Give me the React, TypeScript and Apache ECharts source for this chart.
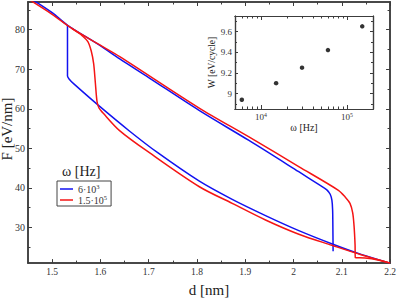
import React, { useEffect, useRef } from 'react';
import * as echarts from 'echarts';

const FONT = 'Liberation Serif';
const AX = '#3c3c3c';
const BLUE = '#1212f0';
const RED = '#f51515';

// ---- main plot data: F [eV/nm] vs d [nm] ----
const blueUpper: [number, number][] = [
  [1.45, 88.3], [1.50, 84.3], [1.532, 81.1], [1.598, 76.1], [1.64, 72.6], [1.70, 67.9],
  [1.8044, 59.6], [1.9077, 52.0], [2.0108, 44.1], [2.052, 40.9], [2.069, 39.5], [2.076, 38.4],
  [2.0795, 36.9], [2.081, 34.5], [2.0815, 30.5], [2.082, 24.0],
];
const blueLower: [number, number][] = [
  [2.2, 21.0], [2.14, 23.2], [2.083, 25.7], [2.011, 29.2], [1.942, 33.0], [1.873, 37.1],
  [1.805, 41.7], [1.7187, 48.9], [1.66, 54.4], [1.5985, 60.6], [1.545, 66.3], [1.536, 67.4],
  [1.5318, 68.3], [1.5318, 81.1],
];
const redUpper: [number, number][] = [
  [1.45, 87.8], [1.50, 83.9], [1.54, 80.4], [1.598, 76.2], [1.64, 73.2], [1.8046, 60.2],
  [1.9077, 52.9], [2.0108, 45.4], [2.093, 39.4], [2.107, 37.7], [2.117, 36.1], [2.1226, 33.7],
  [2.1254, 30.4], [2.1275, 25.6], [2.128, 22.4], [2.148, 22.3], [2.175, 21.8], [2.2, 21.0],
];
const redLower: [number, number][] = [
  [2.2, 21.0], [2.14, 23.1], [2.0795, 25.5], [2.011, 28.3], [1.942, 31.9], [1.873, 36.1],
  [1.805, 40.3], [1.7015, 48.9], [1.6397, 54.5], [1.605, 59.0], [1.597, 60.2], [1.593, 61.8],
  [1.5895, 66.6], [1.586, 71.4], [1.581, 74.6], [1.574, 77.0], [1.562, 78.5], [1.553, 79.3],
  [1.54, 80.4],
];

// ---- inset data: W [eV/cycle] vs omega [Hz] ----
const omegaHz = [6000, 15000, 30000, 60000, 150000];
const workEV = [8.94, 9.10, 9.25, 9.42, 9.65];

// ---- ticks ----
const mainXLabels = [1.5, 1.6, 1.7, 1.8, 1.9, 2.0, 2.1, 2.2];
const mainXMinor = [1.55, 1.65, 1.75, 1.85, 1.95, 2.05, 2.15];
const mainYLabels = [30, 40, 50, 60, 70, 80];
const mainYMinor = [25, 35, 45, 55, 65, 75, 85];
const insetXDecades = [4, 5];
const insetXMinorHz = [6000, 7000, 8000, 9000, 20000, 30000, 40000, 50000, 60000, 70000, 80000, 90000];
const insetYLabels = [9.0, 9.2, 9.4, 9.6];
const insetYMinor = [8.9, 9.1, 9.3, 9.5, 9.7];

const richFor = (fs: number) => ({
  t: { fontSize: fs, fontFamily: FONT, color: '#333' },
  sup: { fontSize: fs * 0.65, fontFamily: FONT, color: '#333', padding: [0, 0, fs * 0.5, 0] },
});

function axis(p: any) {
  return {
    type: 'value',
    gridIndex: p.grid,
    position: p.pos,
    min: p.min,
    max: p.max,
    splitLine: { show: false },
    axisLine: { show: true, onZero: false, lineStyle: { color: AX, width: p.lw } },
    axisTick: {
      show: true, inside: true, length: p.len, customValues: p.ticks,
      lineStyle: { color: AX, width: p.tw ?? 1 },
    },
    axisLabel: p.labels
      ? {
          show: true, customValues: p.labels, formatter: p.fmt, margin: p.margin,
          fontSize: p.fs, fontFamily: FONT, color: '#333', rich: richFor(p.fs),
        }
      : { show: false },
    name: p.name,
    nameLocation: 'middle',
    nameGap: p.nameGap,
    nameTextStyle: { fontSize: p.nameSize, fontFamily: FONT, color: '#222' },
  };
}

const oneDec = (v: number) => `{t|${Math.round(v * 10) / 10}}`;

export default function App() {
  const ref = useRef<HTMLDivElement>(null);
  useEffect(() => {
    if (!ref.current) return;
    const chart = echarts.init(ref.current, undefined, { renderer: 'svg' });
    const mx = { grid: 0, min: 1.45, max: 2.2, lw: 1.5 };
    const my = { grid: 0, min: 21, max: 87, lw: 1.5 };
    const ix = { grid: 1, min: Math.log10(5000), max: Math.log10(200000), lw: 1.2 };
    const iy = { grid: 1, min: 8.85, max: 9.75, lw: 1.2 };
    const ixMinor = insetXMinorHz.map((w) => Math.log10(w));
    const lineSeries = (name: string, color: string, data: [number, number][]) => ({
      name, type: 'line', data, xAxisIndex: 0, yAxisIndex: 0, symbol: 'none', showSymbol: false,
      clip: true, smooth: 0.3,
      lineStyle: { color, width: 1.5 }, itemStyle: { color },
    });
    chart.setOption({
      animation: false,
      backgroundColor: '#fff',
      grid: [
        { left: 28, top: 2, width: 364, height: 274 },
        { left: 235, top: 16, width: 138, height: 93, show: true, backgroundColor: '#fff', borderWidth: 0 },
      ],
      xAxis: [
        axis({ ...mx, pos: 'bottom', len: 4, ticks: mainXLabels, labels: mainXLabels, fmt: oneDec, margin: 4, fs: 9.5, name: 'd [nm]', nameGap: 13, nameSize: 15 }),
        axis({ ...mx, pos: 'bottom', len: 2.5, ticks: mainXMinor }),
        axis({ ...mx, pos: 'top', len: 4, ticks: mainXLabels }),
        axis({ ...mx, pos: 'top', len: 2.5, ticks: mainXMinor }),
        axis({ ...ix, pos: 'bottom', len: 4, ticks: insetXDecades, labels: insetXDecades, fmt: (v: number) => `{t|10}{sup|${Math.round(v)}}`, margin: 3, fs: 9, name: 'ω [Hz]', nameGap: 13, nameSize: 10 }),
        axis({ ...ix, pos: 'bottom', len: 2.5, ticks: ixMinor }),
        axis({ ...ix, pos: 'top', len: 4, ticks: insetXDecades }),
        axis({ ...ix, pos: 'top', len: 2.5, ticks: ixMinor }),
      ],
      yAxis: [
        axis({ ...my, pos: 'left', len: 4, ticks: mainYLabels, labels: mainYLabels, fmt: (v: number) => `{t|${Math.round(v)}}`, margin: 3, fs: 10 }),
        axis({ ...my, pos: 'left', len: 2.5, ticks: mainYMinor }),
        axis({ ...my, pos: 'right', len: 4, ticks: mainYLabels }),
        axis({ ...my, pos: 'right', len: 2.5, ticks: mainYMinor }),
        axis({ ...iy, pos: 'left', len: 3, ticks: insetYLabels, labels: insetYLabels, fmt: oneDec, margin: 3, fs: 9, name: 'W [eV/cycle]', nameGap: 17, nameSize: 9.5 }),
        axis({ ...iy, pos: 'left', len: 2, ticks: insetYMinor }),
        axis({ ...iy, pos: 'right', len: 3, ticks: insetYLabels }),
        axis({ ...iy, pos: 'right', len: 2, ticks: insetYMinor }),
      ],
      title: {
        text: 'ω [Hz]', left: 62, top: 164, padding: 0,
        textStyle: { fontSize: 14, fontWeight: 'normal', fontFamily: FONT, color: '#222' },
      },
      legend: {
        data: ['b6', 'r15'],
        orient: 'vertical',
        left: 57, top: 181,
        padding: [2, 4, 1, 3],
        icon: 'rect',
        itemWidth: 13, itemHeight: 1.5, itemGap: 0,
        borderColor: '#444', borderWidth: 1, borderRadius: 0,
        formatter: (n: string) => (n === 'b6' ? '{t|6·10}{sup|3}' : '{t|1.5·10}{sup|5}'),
        textStyle: { fontSize: 10, fontFamily: FONT, color: '#222', rich: richFor(10) },
      },
      graphic: [
        {
          type: 'text', x: 7, y: 129, rotation: Math.PI / 2,
          style: { text: 'F [eV/nm]', fontSize: 15, fontFamily: FONT, fill: '#222', align: 'center', verticalAlign: 'middle' },
        },
      ],
      series: [
        lineSeries('b6', BLUE, blueUpper),
        lineSeries('b6', BLUE, blueLower),
        lineSeries('r15', RED, redUpper),
        lineSeries('r15', RED, redLower),
        {
          type: 'scatter', xAxisIndex: 4, yAxisIndex: 4, symbolSize: 4.5,
          itemStyle: { color: '#000' },
          data: omegaHz.map((w, i) => [Math.log10(w), workEV[i]]),
        },
      ],
    });
    return () => chart.dispose();
  }, []);
  return <div ref={ref} style={{ width: 399, height: 302, position: 'absolute', left: 0, top: 0 }} />;
}
